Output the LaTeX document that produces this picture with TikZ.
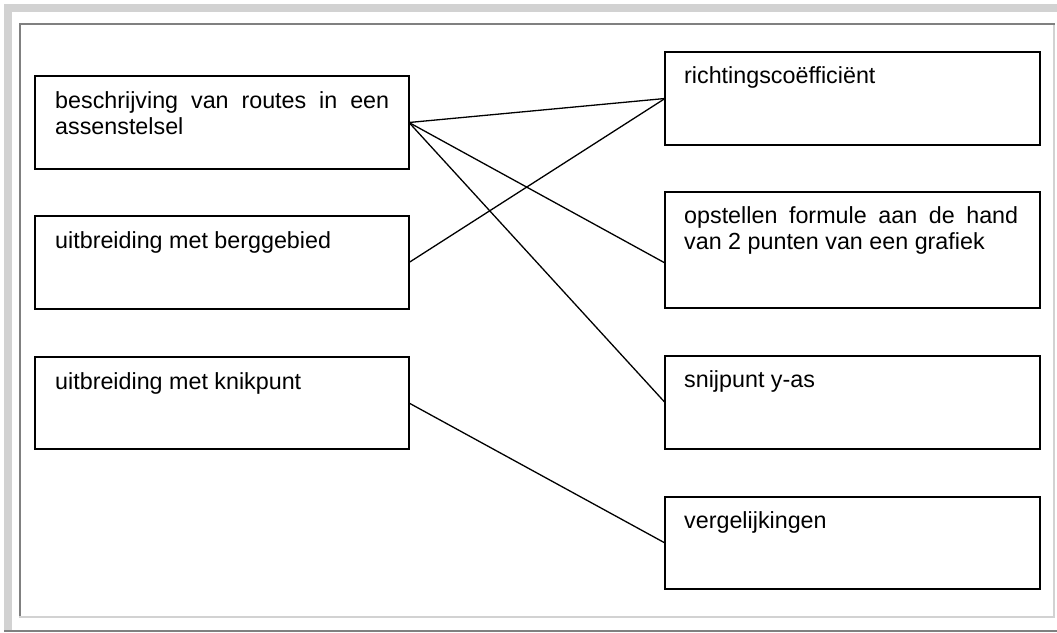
\documentclass[tikz,border=0pt]{standalone}
\usepackage{fontspec}
\setmainfont{Liberation Sans}
\hyphenpenalty=10000
\tolerance=10000
\definecolor{framelight}{HTML}{D2D2D2}
\definecolor{framedark}{HTML}{808080}
\begin{document}
\begin{tikzpicture}[x=1pt,y=-1pt,
  box/.style={draw=black,line width=1.6pt,anchor=north west,inner sep=0pt,outer sep=0pt},
  leftbox/.style={box,minimum width=374pt},
  rightbox/.style={box,minimum width=375pt},
  boxtext/.style={anchor=base west,inner sep=0pt,text width=334pt,align=justify,
    font=\fontsize{23.3}{26.8}\selectfont},
  link/.style={line width=1.3pt}]
  % canvas
  \useasboundingbox (0,0) rectangle (1057,632);
  \fill[white] (0,0) rectangle (1057,632);
  % bevelled frame: raised outer edge, sunken inner edge
  \fill[framelight] (4,4) rectangle (1057,12);
  \fill[framelight] (4,4) rectangle (12,630);
  \fill[framedark] (4,630) rectangle (1057,632);
  \fill[framedark] (19,23) rectangle (1055,25);
  \fill[framedark] (19,23) rectangle (21,618);
  \fill[framelight] (19,616) rectangle (1055,618);
  \fill[framelight] (1053,25) rectangle (1055,618);
  % left column
  \node[leftbox,minimum height=93pt] (l1) at (35,76) {};
  \node[leftbox,minimum height=93pt] (l2) at (35,216) {};
  \node[leftbox,minimum height=92pt] (l3) at (35,357) {};
  \node[boxtext] (t1) at ([shift={(20,32)}]l1.north west) {beschrijving van routes in een\linebreak assenstelsel};
  \node[boxtext] (t2) at ([shift={(20,32)}]l2.north west) {uitbreiding met berggebied};
  \node[boxtext] (t3) at ([shift={(20,32)}]l3.north west) {uitbreiding met knikpunt};
  % right column
  \node[rightbox,minimum height=93pt] (r1) at (665,52) {};
  \node[rightbox,minimum height=116pt] (r2) at (665,192) {};
  \node[rightbox,minimum height=93pt] (r3) at (665,356) {};
  \node[rightbox,minimum height=92pt] (r4) at (665,497) {};
  \node[boxtext] (u1) at ([shift={(19,31)}]r1.north west) {richtingscoëfficiënt};
  \node[boxtext] (u2) at ([shift={(19,31)}]r2.north west) {opstellen formule aan de hand\linebreak van 2 punten van een grafiek};
  \node[boxtext] (u3) at ([shift={(19,31)}]r3.north west) {snijpunt y-as};
  \node[boxtext] (u4) at ([shift={(19,31)}]r4.north west) {vergelijkingen};
  % matching lines
  \draw[link] (l1.east) -- (r1.west);
  \draw[link] (l1.east) -- ([yshift=-13pt]r2.west);
  \draw[link] (l1.east) -- (r3.west);
  \draw[link] (l2.east) -- (r1.west);
  \draw[link] (l3.east) -- (r4.west);
\end{tikzpicture}
\end{document}
